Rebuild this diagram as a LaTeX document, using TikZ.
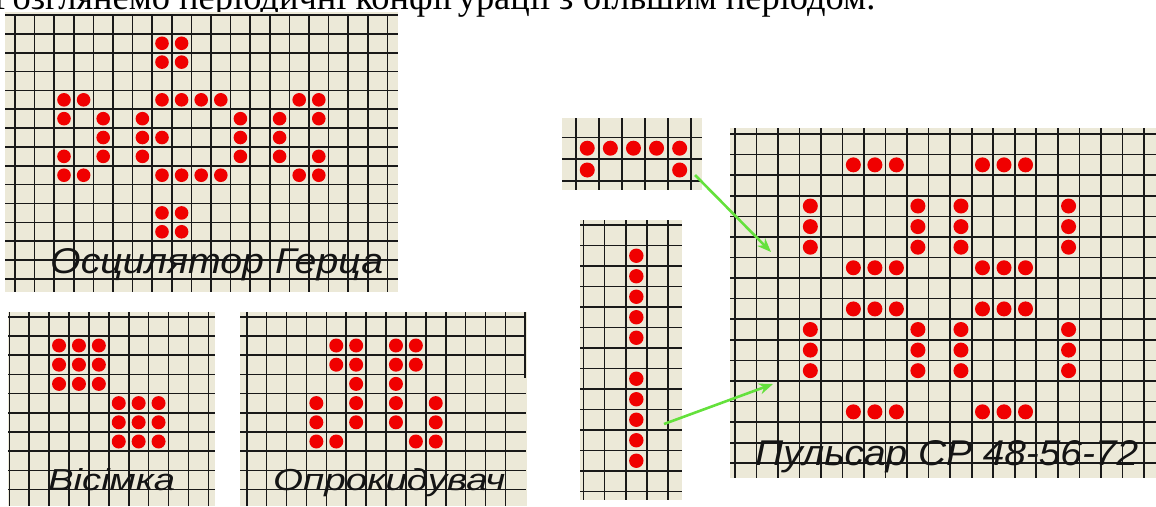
\documentclass[tikz,border=0pt]{standalone}
\usepackage{fontspec}
\usepackage{graphicx}
\setmainfont{Liberation Serif}
\newfontfamily\arialfont{Liberation Sans}
\usetikzlibrary{arrows.meta}
\definecolor{beige}{HTML}{ECE9D8}
\definecolor{lifered}{HTML}{F00000}
\definecolor{arrowgreen}{RGB}{100,225,60}
\tikzset{
  gridline/.style={line width=1.6pt, draw=black!90},
  bgpanel/.style={fill=beige},
  lifedot/.style={fill=lifered},
  greenarrow/.style={draw=arrowgreen, line width=2.6pt, -{Stealth[length=14pt,width=11pt]}},
  caption/.style={inner sep=0pt, anchor=base west, text=black!92}
}
\begin{document}
\begin{tikzpicture}[x=1pt,y=-1pt]
\useasboundingbox (0,0) rectangle (1156,506);
\clip (0,0) rectangle (1156,506);

% title line (clipped at top)
\node[inner sep=0pt, anchor=base west] (title) at (-7,9.5)
  {\resizebox{882pt}{!}{Розглянемо періодичні конфігурації з більшим періодом.}};

% ---------- Oscillator Hertz ----------
\fill[bgpanel] (5,12) rectangle (398,292);
\foreach \i in {0,...,19} \draw[gridline] ({15+19.6*\i},14) -- ({15+19.6*\i},292);
\foreach \j in {0,...,14} \draw[gridline] (5,{15+18.85*\j}) -- (398,{15+18.85*\j});
\foreach \r/\cols in {1/{7,8},2/{7,8},4/{2,3,7,8,9,10,14,15},5/{2,4,6,11,13,15},
   6/{4,6,7,11,13},7/{2,4,6,11,13,15},8/{2,3,7,8,9,10,14,15},10/{7,8},11/{7,8}}
  \foreach \c in \cols
    \fill[lifedot] ({15+19.6*(\c+0.5)},{15+18.85*(\r+0.5)}) circle (6.8);
\node[caption] (hertz) at (50,273)
  {\resizebox{333pt}{25pt}{\arialfont\itshape Осцилятор Герца}};

% ---------- Eight ----------
\fill[bgpanel] (8,312) rectangle (215,506);
\foreach \i in {0,...,10} \draw[gridline] ({9.3+19.9*\i},312) -- ({9.3+19.9*\i},506);
\foreach \j in {0,...,9} \draw[gridline] (8,{316.7+19.2*\j}) -- (215,{316.7+19.2*\j});
\foreach \r/\cols in {1/{2,3,4},2/{2,3,4},3/{2,3,4},4/{5,6,7},5/{5,6,7},6/{5,6,7}}
  \foreach \c in \cols
    \fill[lifedot] ({9.3+19.9*(\c+0.5)},{316.7+19.2*(\r+0.5)}) circle (7);
\node[caption] (eight) at (48,490)
  {\resizebox{127pt}{22pt}{\arialfont\itshape Вісімка}};

% ---------- Tumbler ----------
\fill[bgpanel] (240,312) rectangle (527,506);
\foreach \i in {0,...,13} \draw[gridline] ({246.7+19.9*\i},312) -- ({246.7+19.9*\i},506);
\draw[gridline] (525,312) -- (525,378);
\foreach \j in {0,...,9} \draw[gridline] (240,{316.7+19.2*\j}) -- (526,{316.7+19.2*\j});
\foreach \r/\cols in {1/{4,5,7,8},2/{4,5,7,8},3/{5,7},4/{3,5,7,9},5/{3,5,7,9},6/{3,4,8,9}}
  \foreach \c in \cols
    \fill[lifedot] ({246.7+19.9*(\c+0.5)},{316.7+19.2*(\r+0.5)}) circle (7);
\node[caption] (tumbler) at (273,490)
  {\resizebox{232pt}{22pt}{\arialfont\itshape Опрокидувач}};

% ---------- small horizontal phase ----------
\fill[bgpanel] (562,118) rectangle (702,190);
\foreach \i in {0,...,5} \draw[gridline] ({575.7+23.1*\i},118) -- ({575.7+23.1*\i},190);
\foreach \j in {0,...,2} \draw[gridline] (562,{137.3+21.8*\j}) -- (702,{137.3+21.8*\j});
\foreach \r/\cols in {0/{0,1,2,3,4},1/{0,4}}
  \foreach \c in \cols
    \fill[lifedot] ({575.7+23.1*(\c+0.5)},{137.3+21.8*(\r+0.5)}) circle (7.5);

% ---------- vertical column ----------
\fill[bgpanel] (580,220) rectangle (682,500);
\foreach \i in {0,...,4} \draw[gridline] ({583.3+21.2*\i},220) -- ({583.3+21.2*\i},500);
\foreach \j in {0,...,13} \draw[gridline] (580,{225+20.5*\j}) -- (682,{225+20.5*\j});
\foreach \r in {1,2,3,4,5,7,8,9,10,11}
  \fill[lifedot] ({583.3+21.2*2.5},{225+20.5*(\r+0.5)}) circle (7.2);

% ---------- Pulsar ----------
\fill[bgpanel] (730,128) rectangle (1156,478);
\foreach \i in {0,...,19} \draw[gridline] ({735+21.52*\i},128) -- ({735+21.52*\i},478);
\foreach \j in {0,...,16} \draw[gridline] (730,{134+20.58*\j}) -- (1156,{134+20.58*\j});
\foreach \r in {1,6,8,13}
  \foreach \c in {5,6,7,11,12,13}
    \fill[lifedot] ({735+21.52*(\c+0.5)},{134+20.58*(\r+0.5)}) circle (7.5);
\foreach \r in {3,4,5,9,10,11}
  \foreach \c in {3,8,10,15}
    \fill[lifedot] ({735+21.52*(\c+0.5)},{134+20.58*(\r+0.5)}) circle (7.5);
\node[caption] (pulsar) at (755,465)
  {\resizebox{383pt}{25pt}{\arialfont\itshape Пульсар СР 48-56-72}};

% ---------- arrows ----------
\coordinate (a1s) at (695,175);
\coordinate (a1e) at (771,252);
\coordinate (a2s) at (664,424);
\coordinate (a2e) at (773,384);
\draw[greenarrow] (a1s) -- (a1e);
\draw[greenarrow] (a2s) -- (a2e);
\end{tikzpicture}
\end{document}
